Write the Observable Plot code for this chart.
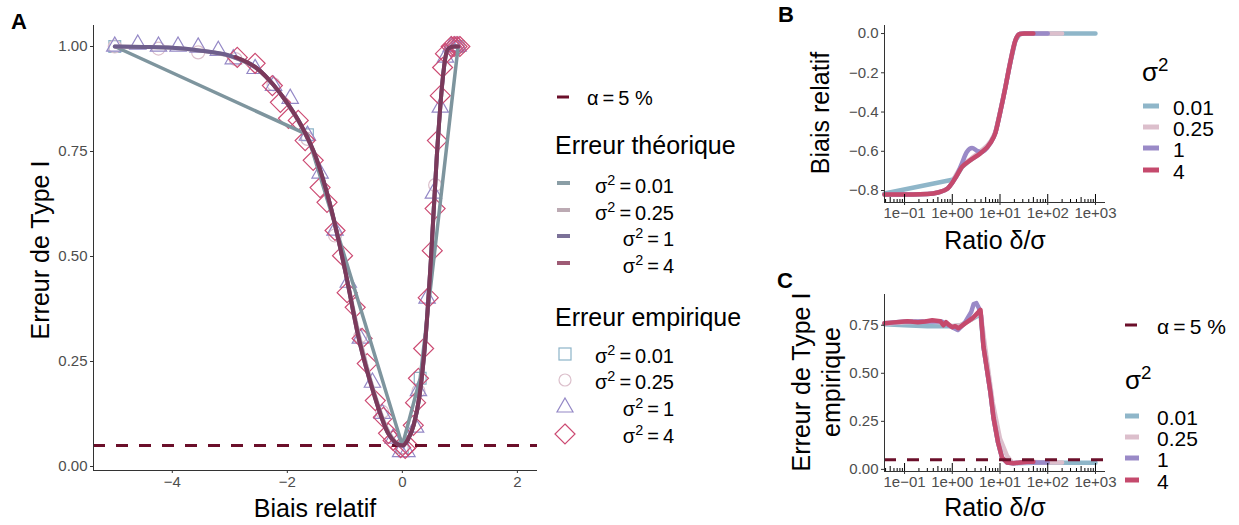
<!DOCTYPE html>
<html><head><meta charset="utf-8">
<script src="https://cdn.jsdelivr.net/npm/d3@7"></script>
<script src="https://cdn.jsdelivr.net/npm/@observablehq/plot@0.6"></script>
<style>
body{margin:0;background:#fff;font-family:"Liberation Sans",Arial,sans-serif;}
#root{position:relative;width:1239px;height:525px;overflow:hidden;background:#fff}
.abs{position:absolute;white-space:nowrap;line-height:1;color:#000}
sup{font-size:0.72em;vertical-align:0.55em;line-height:0}
.panel{position:absolute}
</style></head><body><div id="root"></div>
<script>
// ---------- Panel A : theoretical type I error vs relative bias ----------
const biasTheo001 = [-5, -1.65, 0, 0.31, 0.97];
const errTheo001  = [1.0, 0.79, 0.05, 0.21, 1.0];
const biasTheo = [-5,-4.5,-4,-3.5,-3,-2.5,-2.25,-2,-1.75,-1.5,-1.25,-1,-0.75,-0.5,-0.25,0,0.1,0.2,0.3,0.4,0.5,0.6,0.7,0.75,0.8,0.9,0.97];
const errTheo025 = [1.0,0.999,0.997,0.99,0.977,0.944,0.91,0.864,0.808,0.733,0.62,0.47,0.31,0.18,0.085,0.05,0.066,0.10,0.17,0.30,0.50,0.74,0.92,0.975,0.995,1.0,1.0];
const errTheo1   = [1.0,0.999,0.997,0.99,0.978,0.945,0.91,0.865,0.81,0.735,0.62,0.47,0.30,0.175,0.08,0.05,0.065,0.10,0.17,0.30,0.50,0.74,0.92,0.975,0.995,1.0,1.0];
const biasTheo4 = [-2.9,-2.5,-2.25,-2,-1.75,-1.5,-1.25,-1,-0.75,-0.5,-0.25,0,0.1,0.2,0.3,0.4,0.5,0.6,0.7,0.75,0.8,0.9,0.97];
const errTheo4  = [0.975,0.945,0.91,0.865,0.81,0.735,0.62,0.47,0.30,0.175,0.08,0.05,0.065,0.10,0.17,0.30,0.50,0.74,0.92,0.975,0.995,1.0,1.0];

// empirical points
const biasEmp001 = [-5, -1.65, 0, 0.31, 0.97];
const errEmp001  = [1.0, 0.79, 0.045, 0.21, 1.0];
const biasEmp025 = [-5,-4.24,-3.55,-2.9,-2.24,-1.65,-1.17,-0.73,-0.35,0,0.28,0.57,0.9];
const errEmp025  = [1.0,0.995,0.986,0.97,0.91,0.78,0.55,0.31,0.13,0.045,0.18,0.67,1.0];
const biasEmp1 = [-5.0,-4.6,-4.24,-3.9,-3.55,-3.2,-2.94,-2.56,-2.24,-1.95,-1.65,-1.43,-1.17,-0.94,-0.73,-0.52,-0.35,-0.16,-0.03,0.08,0.23,0.28,0.43,0.54,0.66,0.75,0.85,0.92,0.97];
const errEmp1  = [1.0,1.005,1.0,1.0,0.998,0.99,0.97,0.947,0.907,0.876,0.788,0.698,0.562,0.438,0.305,0.2,0.126,0.067,0.035,0.035,0.093,0.18,0.4,0.65,0.855,0.974,1.0,1.0,1.0];
const biasEmp4 = [-2.87,-2.56,-2.26,-2.12,-1.98,-1.81,-1.69,-1.55,-1.43,-1.31,-1.17,-1.04,-0.96,-0.82,-0.70,-0.61,-0.47,-0.33,-0.24,-0.16,-0.03,0.05,0.10,0.19,0.23,0.28,0.37,0.45,0.52,0.57,0.61,0.66,0.70,0.75,0.85,0.9,0.95,1.0];
const errEmp4  = [0.974,0.96,0.907,0.867,0.829,0.824,0.776,0.729,0.664,0.629,0.562,0.502,0.414,0.379,0.305,0.245,0.157,0.117,0.079,0.062,0.045,0.043,0.05,0.098,0.152,0.21,0.281,0.402,0.514,0.614,0.776,0.883,0.95,0.983,1.0,1.0,1.0,1.0];

const alphaLevel = 0.05;
const ticksAx = [-4, -2, 0, 2];
const ticksAy = [0, 0.25, 0.5, 0.75, 1];

// ---------- Panel B : relative bias vs ratio ----------
const ratioB001 = [0.038, 1.0, 1.2, 1.6, 2.4, 3.9, 6.3, 8, 10, 13, 16, 21, 26, 32, 50, 100, 200, 1000];
const biasB001  = [-0.815, -0.745, -0.73, -0.68, -0.645, -0.61, -0.557, -0.506, -0.405, -0.273, -0.16, -0.035, -0.002, 0, 0, 0, 0, 0];
const ratioB025 = [0.038, 0.08, 0.15, 0.3, 0.5, 0.8, 1.0, 1.2, 1.6, 2.4, 3.9, 6.3, 8, 10, 13, 16, 21, 26, 32, 50, 100, 200];
const biasB025  = [-0.82, -0.82, -0.82, -0.818, -0.81, -0.79, -0.76, -0.72, -0.675, -0.64, -0.6, -0.55, -0.5, -0.4, -0.27, -0.155, -0.033, -0.002, 0, 0, 0, 0];
const ratioB1 = [0.038, 0.08, 0.15, 0.3, 0.5, 0.8, 1.0, 1.26, 1.6, 2.0, 2.6, 3.3, 4.0, 6.3, 8, 10, 13, 16, 21, 26, 32, 50, 100];
const biasB1  = [-0.82, -0.82, -0.82, -0.818, -0.81, -0.79, -0.76, -0.72, -0.66, -0.605, -0.583, -0.597, -0.605, -0.557, -0.506, -0.405, -0.273, -0.16, -0.035, -0.002, 0, 0, 0];
const ratioB4 = [0.038, 0.08, 0.15, 0.3, 0.5, 0.8, 1.0, 1.2, 1.6, 2.4, 3.9, 6.3, 8, 10, 13, 16, 21, 26, 32, 50];
const biasB4  = [-0.82, -0.82, -0.82, -0.818, -0.81, -0.79, -0.76, -0.73, -0.68, -0.645, -0.61, -0.557, -0.506, -0.405, -0.273, -0.16, -0.035, -0.002, 0, 0];

// ---------- Panel C : empirical type I error vs ratio ----------
const ratioC001 = [0.038, 0.1, 0.3, 0.6, 1.0, 1.5, 2.5, 3.5, 3.9, 4.5, 6.3, 7.3, 9.1, 11, 14, 19, 50, 100, 200, 1000];
const errC001   = [0.755, 0.75, 0.745, 0.745, 0.745, 0.75, 0.78, 0.8, 0.81, 0.64, 0.40, 0.27, 0.14, 0.062, 0.036, 0.032, 0.035, 0.035, 0.035, 0.035];
const ratioC025 = [0.038, 0.1, 0.3, 0.6, 1.0, 1.5, 2.5, 3.5, 3.9, 4.5, 7, 10, 14, 18, 30, 50, 100, 200];
const errC025   = [0.758, 0.765, 0.77, 0.765, 0.745, 0.75, 0.78, 0.81, 0.82, 0.70, 0.35, 0.16, 0.07, 0.035, 0.035, 0.038, 0.036, 0.036];
const ratioC1 = [0.038, 0.1, 0.3, 0.6, 1.0, 1.3, 1.8, 2.5, 2.8, 3.2, 3.6, 4.0, 4.5, 6.3, 7.3, 9.1, 11, 14, 19, 37, 50, 100];
const errC1   = [0.76, 0.77, 0.77, 0.77, 0.74, 0.725, 0.76, 0.82, 0.86, 0.865, 0.84, 0.80, 0.64, 0.40, 0.27, 0.14, 0.062, 0.036, 0.032, 0.038, 0.036, 0.036];
const ratioC4 = [0.038,0.06,0.1,0.115,0.15,0.19,0.27,0.38,0.56,0.65,0.74,0.87,1.0,1.15,1.35,1.86,2.75,3.9,4.5,6.3,7.3,9.1,11,14,19,37,50];
const errC4   = [0.76,0.765,0.77,0.771,0.768,0.766,0.77,0.776,0.771,0.75,0.766,0.75,0.74,0.745,0.734,0.76,0.79,0.83,0.64,0.40,0.27,0.14,0.062,0.036,0.032,0.04,0.04];

const logMajor = [0.1, 1, 10, 100, 1000];
const logMajorLabels = ["1e\u221201", "1e+00", "1e+01", "1e+02", "1e+03"];
const logMid = [0.05, 0.5, 5, 50, 500];
const logMinor = [0.04,0.06,0.07,0.08,0.09,0.2,0.3,0.4,0.6,0.7,0.8,0.9,2,3,4,6,7,8,9,20,30,40,60,70,80,90,200,300,400,600,700,800,900];
const ticksBy = [0, -0.2, -0.4, -0.6, -0.8];
const ticksCy = [0, 0.25, 0.5, 0.75];

const sigmaLabels = ["0.01", "0.25", "1", "4"];

// ---------- styling ----------
const FONT = '"Liberation Sans", Arial, sans-serif';
const theoColors = ["#7e959e", "#b5a3ad", "#6e5f8c", "#7b3a5b"];
const theoKeyColors = ["#8a9ea6", "#bcaab3", "#7b7198", "#9e5b75"];
const empColors = ["#8db4c8", "#dcc0cc", "#9488c6", "#cc4a72"];
const empSymbols = ["square2", "circle", "triangle2", "diamond2"];
const empR = [7.5, 6.5, 7.8, 9];
const serColors = ["#8fb6c9", "#dcbfcc", "#9a8ac7", "#c54a6d"];
const alphaColor = "#6b0f2a";

const zip = (xs, ys) => xs.map((x, i) => ({x, y: ys[i]}));
const root = document.getElementById("root");

function place(html, x, y, opt = {}) {
  const d = document.createElement("div");
  d.className = "abs";
  d.innerHTML = html;
  d.style.left = x + "px";
  d.style.top = y + "px";
  d.style.fontSize = (opt.size || 20) + "px";
  if (opt.bold) d.style.fontWeight = "bold";
  if (opt.lh) d.style.lineHeight = opt.lh;
  if (opt.align) d.style.textAlign = opt.align;
  const a = opt.anchor || "start";
  const tx = a === "middle" ? "-50%" : a === "end" ? "-100%" : "0";
  d.style.transform = `translate(${tx},-50%)` + (opt.rotate ? ` rotate(${opt.rotate}deg)` : "");
  root.appendChild(d);
  return d;
}
function svgKey(inner, x, y, w, h) {
  const d = document.createElement("div");
  d.className = "abs";
  d.style.left = x + "px"; d.style.top = y + "px";
  d.innerHTML = `<svg width="${w}" height="${h}" style="overflow:visible;display:block">${inner}</svg>`;
  root.appendChild(d);
}
function mount(svg, left, top) {
  svg.classList.add("panel");
  svg.style.left = left + "px";
  svg.style.top = top + "px";
  root.appendChild(svg);
}
const baseStyle = {fontFamily: FONT, background: "transparent", overflow: "visible", color: "#4d4d4d"};

// ---------- Panel A ----------
{
  const xd = [-5.37, 2.35], yd = [-0.0095, 1.05];
  const theo = [
    {d: zip(biasTheo001, errTheo001), c: theoColors[0], curve: "linear", w: 3.5},
    {d: zip(biasTheo, errTheo025), c: theoColors[1], curve: "monotone-x", w: 4},
    {d: zip(biasTheo, errTheo1), c: theoColors[2], curve: "monotone-x", w: 4},
    {d: zip(biasTheo4, errTheo4), c: theoColors[3], curve: "monotone-x", w: 4}
  ];
  const emp = [zip(biasEmp001, errEmp001), zip(biasEmp025, errEmp025), zip(biasEmp1, errEmp1), zip(biasEmp4, errEmp4)];
  const svg = Plot.plot({
    width: 545, height: 525, marginLeft: 93, marginRight: 8, marginTop: 25, marginBottom: 55,
    style: baseStyle,
    x: {domain: xd}, y: {domain: yd},
    marks: [
      ...emp.map((d, i) => Plot.dot(d, {x: "x", y: "y", symbol: empSymbols[i], r: empR[i], stroke: empColors[i], strokeWidth: 1.2, fill: "none", shapeRendering: "geometricPrecision"})),
      Plot.ruleY([alphaLevel], {stroke: alphaColor, strokeWidth: 3, strokeDasharray: "12,11"}),
      ...theo.map(t => Plot.line(t.d, {x: "x", y: "y", stroke: t.c, strokeWidth: t.w, curve: t.curve})),
      Plot.ruleX([xd[0]], {stroke: "#333", strokeWidth: 1}),
      Plot.ruleY([yd[0]], {stroke: "#333", strokeWidth: 1}),
      Plot.axisX({ticks: ticksAx, tickSize: 3, tickPadding: 3, fontSize: 15, stroke: "#333", fill: "#4d4d4d", label: null}),
      Plot.axisY({ticks: ticksAy, tickSize: 3, tickPadding: 3, fontSize: 15, stroke: "#333", fill: "#4d4d4d", label: null, tickFormat: d3.format(".2f")})
    ]
  });
  mount(svg, 0, 0);
}

// ---------- Panel B ----------
{
  const xd = [0.038, 1622], yd = [-0.861, 0.041];
  const H = 260, mt = 25, mb = 58, ph = H - mt - mb;
  const series = [zip(ratioB001, biasB001), zip(ratioB025, biasB025), zip(ratioB1, biasB1), zip(ratioB4, biasB4)];
  const curves = ["linear", "monotone-x", "monotone-x", "monotone-x"];
  const svg = Plot.plot({
    width: 330, height: H, marginLeft: 104, marginRight: 5, marginTop: mt, marginBottom: mb,
    style: baseStyle,
    x: {type: "log", domain: xd}, y: {domain: yd},
    marks: [
      ...series.map((s, i) => Plot.line(s, {x: "x", y: "y", stroke: serColors[i], strokeWidth: 4.5, curve: curves[i]})),
      Plot.ruleX(logMajor, {x: d => d, insetTop: ph - 8, stroke: "#000", strokeWidth: 1}),
      Plot.ruleX(logMid, {x: d => d, insetTop: ph - 5, stroke: "#000", strokeWidth: 1}),
      Plot.ruleX(logMinor, {x: d => d, insetTop: ph - 3, stroke: "#000", strokeWidth: 1}),
      Plot.ruleX([xd[0]], {stroke: "#333", strokeWidth: 1}),
      Plot.ruleY([yd[0]], {stroke: "#333", strokeWidth: 1}),
      Plot.axisX({ticks: logMajor, tickFormat: d => logMajorLabels[logMajor.indexOf(d)], tickSize: 3, tickPadding: 2, fontSize: 15, stroke: "#333", fill: "#4d4d4d", label: null}),
      Plot.axisY({ticks: ticksBy, tickSize: 3, tickPadding: 3, fontSize: 15, stroke: "#333", fill: "#4d4d4d", label: null, tickFormat: d3.format(".1f")})
    ]
  });
  mount(svg, 780, 0);
}

// ---------- Panel C ----------
{
  const xd = [0.038, 1622], yd = [-0.011, 0.91];
  const H = 265, mt = 34, mb = 54, ph = H - mt - mb;
  const series = [zip(ratioC001, errC001), zip(ratioC025, errC025), zip(ratioC1, errC1), zip(ratioC4, errC4)];
  const svg = Plot.plot({
    width: 330, height: H, marginLeft: 104, marginRight: 5, marginTop: mt, marginBottom: mb,
    style: baseStyle,
    x: {type: "log", domain: xd}, y: {domain: yd},
    marks: [
      ...series.map((s, i) => Plot.line(s, {x: "x", y: "y", stroke: serColors[i], strokeWidth: 4.5, curve: "linear"})),
      Plot.ruleY([alphaLevel], {stroke: alphaColor, strokeWidth: 3, strokeDasharray: "12,11"}),
      Plot.ruleX(logMajor, {x: d => d, insetTop: ph - 8, stroke: "#000", strokeWidth: 1}),
      Plot.ruleX(logMid, {x: d => d, insetTop: ph - 5, stroke: "#000", strokeWidth: 1}),
      Plot.ruleX(logMinor, {x: d => d, insetTop: ph - 3, stroke: "#000", strokeWidth: 1}),
      Plot.ruleX([xd[0]], {stroke: "#333", strokeWidth: 1}),
      Plot.ruleY([yd[0]], {stroke: "#333", strokeWidth: 1}),
      Plot.axisX({ticks: logMajor, tickFormat: d => logMajorLabels[logMajor.indexOf(d)], tickSize: 3, tickPadding: 2, fontSize: 15, stroke: "#333", fill: "#4d4d4d", label: null}),
      Plot.axisY({ticks: ticksCy, tickSize: 3, tickPadding: 3, fontSize: 15, stroke: "#333", fill: "#4d4d4d", label: null, tickFormat: d3.format(".2f")})
    ]
  });
  mount(svg, 780, 260);
}

// ---------- Text: panel letters and axis titles ----------
place("A", 19, 22, {size: 22, bold: true, anchor: "middle"});
place("B", 786, 15, {size: 22, bold: true, anchor: "middle"});
place("C", 785, 281, {size: 22, bold: true, anchor: "middle"});

place("Erreur de Type I", 40, 250, {size: 25, anchor: "middle", rotate: -90});
place("Biais relatif", 315, 508, {size: 25, anchor: "middle"});
place("Biais relatif", 820, 113, {size: 25, anchor: "middle", rotate: -90});
place("Ratio δ/σ", 995, 240, {size: 25, anchor: "middle"});
place("Erreur de Type I<br>empirique", 816, 382, {size: 25, anchor: "middle", rotate: -90, lh: "30px", align: "center"});
place("Ratio δ/σ", 995, 507, {size: 25, anchor: "middle"});

// ---------- Legend A ----------
const sig = v => `σ<sup>2</sup>&#8201;=&#8201;${v}`;
svgKey(`<line x1="0" y1="0" x2="12" y2="0" stroke="${alphaColor}" stroke-width="3"/>`, 557, 97, 12, 1);
place("α&#8201;=&#8201;5 %", 587, 98, {size: 20});
place("Erreur théorique", 555, 145, {size: 25});
const yTheo = [185, 212, 238, 265];
sigmaLabels.forEach((s, i) => {
  svgKey(`<line x1="0" y1="0" x2="13" y2="0" stroke="${theoKeyColors[i]}" stroke-width="4"/>`, 557, yTheo[i] - 2, 13, 1);
  place(sig(s), 674, yTheo[i] + 1, {size: 20, anchor: "end"});
});
place("Erreur empirique", 555, 317, {size: 25});
const yEmp = [355, 381, 408, 435];
const empKeys = [
  c => `<rect x="-6" y="-6" width="12" height="12" fill="none" stroke="${c}" stroke-width="1.2"/>`,
  c => `<circle cx="0" cy="0" r="6" fill="none" stroke="${c}" stroke-width="1.2"/>`,
  c => `<path d="M0,-9 L8,5 L-8,5 Z" fill="none" stroke="${c}" stroke-width="1.2"/>`,
  c => `<path d="M0,-10 L10,0 L0,10 L-10,0 Z" fill="none" stroke="${c}" stroke-width="1.2"/>`
];
sigmaLabels.forEach((s, i) => {
  svgKey(empKeys[i](empColors[i]), 565, yEmp[i] - 1, 1, 1);
  place(sig(s), 674, yEmp[i] + 1, {size: 20, anchor: "end"});
});

// ---------- Legend B ----------
place("σ<sup>2</sup>", 1142, 72, {size: 26});
const yB = [106, 127, 148, 170];
sigmaLabels.forEach((s, i) => {
  svgKey(`<line x1="0" y1="0" x2="16" y2="0" stroke="${serColors[i]}" stroke-width="5"/>`, 1143, yB[i], 16, 1);
  place(s, 1173, yB[i] + 1, {size: 21});
});

// ---------- Legend C ----------
svgKey(`<line x1="0" y1="0" x2="12" y2="0" stroke="${alphaColor}" stroke-width="3"/>`, 1125, 325, 12, 1);
place("α&#8201;=&#8201;5 %", 1157, 326, {size: 21});
place("σ<sup>2</sup>", 1125, 380, {size: 26});
const yC = [416, 437, 458, 480];
sigmaLabels.forEach((s, i) => {
  svgKey(`<line x1="0" y1="0" x2="14" y2="0" stroke="${serColors[i]}" stroke-width="5"/>`, 1125, yC[i], 14, 1);
  place(s, 1157, yC[i] + 1, {size: 21});
});
</script></body></html>
